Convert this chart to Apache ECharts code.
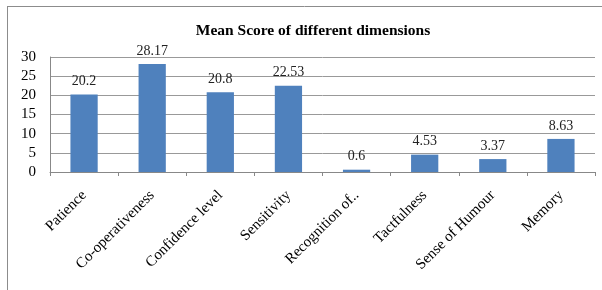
<!DOCTYPE html>
<html><head><meta charset="utf-8">
<script src="https://cdn.jsdelivr.net/npm/echarts@6/dist/echarts.min.js"></script>
<style>html,body{margin:0;padding:0;background:#fff}#c{width:602px;height:290px}</style>
</head><body><div id="c"></div>
<script>
const categories = ["Patience","Co-operativeness","Confidence level","Sensitivity","Recognition of..","Tactfulness","Sense of Humour","Memory"];
const values = [20.2, 28.17, 20.8, 22.53, 0.6, 4.53, 3.37, 8.63];
const valueLabels = ["20.2","28.17","20.8","22.53","0.6","4.53","3.37","8.63"];
const title = "Mean Score of different dimensions";
const font = "Liberation Serif";
const chart = echarts.init(document.getElementById('c'));
chart.setOption({
  animation: false,
  title: {text: title, left: 308, top: 18, textAlign: 'center',
    textStyle: {fontFamily: font, fontSize: 15.5, fontWeight: 'bold', color: '#000'}},
  grid: {left: 50, right: 7, top: 57, bottom: 118},
  graphic: [
    {type: 'line', shape: {x1: 7.5, y1: 6, x2: 7.5, y2: 290}, style: {stroke: '#8c8c8c', lineWidth: 1}},
    {type: 'line', shape: {x1: 7, y1: 6.5, x2: 602, y2: 6.5}, style: {stroke: '#8c8c8c', lineWidth: 1}}
  ],
  xAxis: {type: 'category', data: categories,
    axisLine: {lineStyle: {color: '#888'}},
    axisTick: {show: true, alignWithLabel: false, length: 4, lineStyle: {color: '#888'}},
    axisLabel: {rotate: 45, interval: 0, margin: 21, fontFamily: font, fontSize: 15, color: '#000'}},
  yAxis: {type: 'value', min: 0, max: 30, interval: 5,
    axisLine: {show: true, lineStyle: {color: '#888'}},
    axisTick: {show: false},
    splitLine: {lineStyle: {color: '#999'}},
    axisLabel: {fontFamily: font, fontSize: 15, color: '#000', margin: 14}},
  series: [{type: 'bar', data: values, barWidth: '40%',
    itemStyle: {color: '#4f81bd'},
    label: {show: true, position: 'top', distance: 6, fontFamily: font, fontSize: 14, color: '#222',
      formatter: p => valueLabels[p.dataIndex]}}]
});
</script></body></html>
